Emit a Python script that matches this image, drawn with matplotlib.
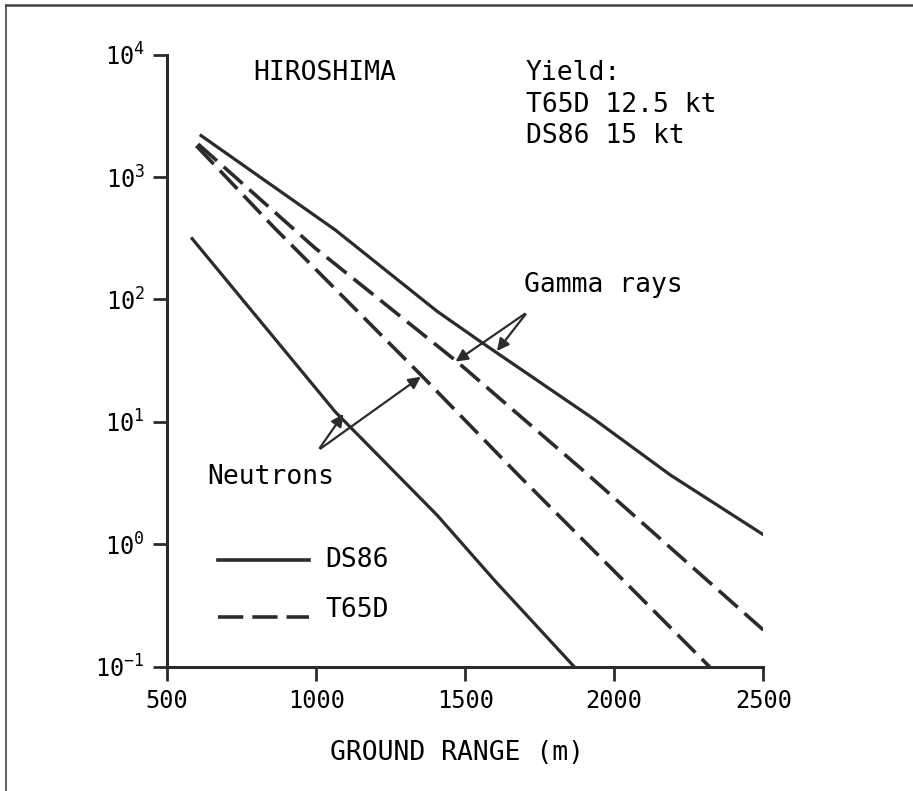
import numpy as np
import matplotlib.pyplot as plt
from matplotlib.lines import Line2D
from matplotlib.ticker import FixedLocator, LogFormatterMathtext, NullLocator

plt.rcParams['font.family'] = ['DejaVu Sans Mono']
plt.rcParams['mathtext.fontset'] = 'custom'
plt.rcParams['mathtext.rm'] = 'DejaVu Sans Mono'
plt.rcParams['mathtext.it'] = 'DejaVu Sans Mono'
plt.rcParams['mathtext.bf'] = 'DejaVu Sans Mono'

# Gamma rays, DS86 (solid)
gam_ds86_x = [614, 1064, 1406, 1561, 1933, 2188, 2500]
gam_ds86_y = [2180, 370, 80, 43.6, 10.5, 3.69, 1.2]
# Gamma rays, T65D (dashed)
gam_t65d_x = [604, 995, 1473, 1894, 2500]
gam_t65d_y = [1860, 265, 31, 4.05, 0.2]
# Neutrons, T65D (dashed)
neu_t65d_x = [598, 858, 1356, 1678, 2320]
neu_t65d_y = [1800, 389, 23.6, 3.69, 0.1]
# Neutrons, DS86 (solid)
neu_ds86_x = [584, 1064, 1406, 1601, 1866]
neu_ds86_y = [314, 12.1, 1.73, 0.5, 0.1]

x_ticks = [500, 1000, 1500, 2000, 2500]
y_ticks = [1e-1, 1e0, 1e1, 1e2, 1e3, 1e4]

ink = '#2b2b2b'
fig = plt.figure(figsize=(9.13, 7.91), dpi=100)
ax = fig.add_axes([0.183, 0.157, 0.653, 0.774])

ax.semilogy(gam_ds86_x, gam_ds86_y, color=ink, lw=2.3)
ax.semilogy(neu_ds86_x, neu_ds86_y, color=ink, lw=2.3)
ax.semilogy(gam_t65d_x, gam_t65d_y, color=ink, lw=2.6, dashes=(7, 2.5))
ax.semilogy(neu_t65d_x, neu_t65d_y, color=ink, lw=2.6, dashes=(7, 2.5))

ax.set_xlim(500, 2500)
ax.set_ylim(1e-1, 1e4)
ax.xaxis.set_major_locator(FixedLocator(x_ticks))
ax.yaxis.set_major_locator(FixedLocator(y_ticks))
ax.yaxis.set_major_formatter(LogFormatterMathtext())
ax.yaxis.set_minor_locator(NullLocator())
ax.tick_params(axis='both', direction='out', length=10, width=2, color=ink,
               labelsize=17, pad=6)
for s in ['top', 'right']:
    ax.spines[s].set_visible(False)
for s in ['left', 'bottom']:
    ax.spines[s].set_linewidth(2.2)
    ax.spines[s].set_color(ink)
ax.set_xlabel('GROUND RANGE (m)', fontsize=19)
ax.xaxis.set_label_coords(0.487, -0.12)

# annotations
fs = 19
ax.text(0.144, 0.97, 'HIROSHIMA', transform=ax.transAxes, fontsize=fs, va='center')
ax.text(0.602, 0.97, 'Yield:', transform=ax.transAxes, fontsize=fs, va='center')
ax.text(0.602, 0.918, 'T65D 12.5 kt', transform=ax.transAxes, fontsize=fs, va='center')
ax.text(0.602, 0.867, 'DS86 15 kt', transform=ax.transAxes, fontsize=fs, va='center')
ax.text(0.067, 0.31, 'Neutrons', transform=ax.transAxes, fontsize=fs, va='center')
ax.text(0.599, 0.623, 'Gamma rays', transform=ax.transAxes, fontsize=fs, va='center')

arrow = dict(arrowstyle='-|>', color=ink, lw=1.6, mutation_scale=18)
ax.annotate('', xy=(1601, 36.4), xytext=(1708, 78.7), arrowprops=arrow)
ax.annotate('', xy=(1460, 30.2), xytext=(1708, 78.7), arrowprops=arrow)
ax.annotate('', xy=(1097, 12.1), xytext=(1007, 5.87), arrowprops=arrow)
ax.annotate('', xy=(1359, 24.1), xytext=(1007, 5.87), arrowprops=arrow)

# key
ax.plot([0.085, 0.238], [0.174, 0.174], transform=ax.transAxes, color=ink, lw=2.6)
ax.plot([0.085, 0.238], [0.081, 0.081], transform=ax.transAxes, color=ink, lw=2.6,
        dashes=(7, 2.5))
ax.text(0.266, 0.174, 'DS86', transform=ax.transAxes, fontsize=fs, va='center')
ax.text(0.266, 0.0925, 'T65D', transform=ax.transAxes, fontsize=fs, va='center')

# frame (top and left edges only)
fig.add_artist(Line2D([0.0066, 1.0], [0.9937, 0.9937], transform=fig.transFigure,
                      color='#444444', lw=1.8))
fig.add_artist(Line2D([0.0066, 0.0066], [0.0, 0.9937], transform=fig.transFigure,
                      color='#444444', lw=1.2))

fig.savefig('out.png', dpi=100)
